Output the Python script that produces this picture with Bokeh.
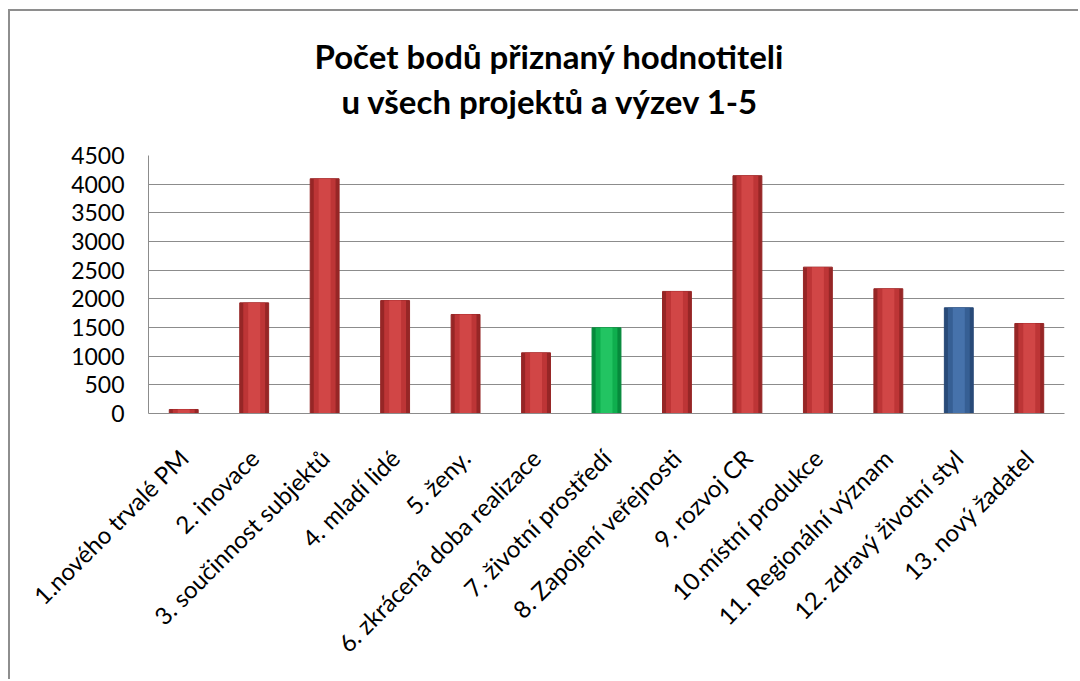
import math
from bokeh.plotting import figure
from bokeh.models import Range1d, FixedTicker, Title, FactorRange
from bokeh.embed import file_html
from bokeh.resources import INLINE

# ---- data ----
categories = [
    "1.nového trvalé PM",
    "2. inovace",
    "3. součinnost subjektů",
    "4. mladí lidé",
    "5. ženy.",
    "6. zkrácená doba realizace",
    "7. životní prostředí",
    "8. Zapojení veřejnosti",
    "9. rozvoj CR",
    "10.místní produkce",
    "11. Regionální význam",
    "12. zdravý životní styl",
    "13. nový žadatel",
]
values = [70, 1930, 4095, 1970, 1727, 1059, 1495, 2129, 4148, 2553, 2176, 1844, 1570]
y_ticks = [0, 500, 1000, 1500, 2000, 2500, 3000, 3500, 4000, 4500]
title_lines = ["Počet bodů přiznaný hodnotiteli", "u všech projektů a výzev 1-5"]

# ---- style ----
bar_kind = ["red"] * 13
bar_kind[6] = "green"
bar_kind[11] = "blue"
palette = {
    "red": ("#962626", "#bd3536", "#d14646"),
    "green": ("#068a3c", "#0fae4e", "#22c462"),
    "blue": ("#284a78", "#365f94", "#4672ab"),
}
dark = [palette[k][0] for k in bar_kind]
mid = [palette[k][1] for k in bar_kind]
light = [palette[k][2] for k in bar_kind]

p = figure(
    x_range=FactorRange(factors=categories, range_padding=0),
    y_range=Range1d(0, 4500),
    width=1070, height=670,
    output_backend="svg", toolbar_location=None,
    min_border_left=138, min_border_right=16,
    min_border_top=144, min_border_bottom=268,
)
p.styles = {
    "margin-left": "8px", "margin-top": "9px",
    "border-left": "2px solid #8e8e8e", "border-top": "2px solid #8e8e8e",
}
p.outline_line_color = None
p.background_fill_color = "white"
p.border_fill_color = "white"

p.vbar(x=categories, top=values, width=0.41, fill_color=dark, line_color=dark, line_width=1)
p.vbar(x=categories, top=values, width=0.31, fill_color=mid, line_color=None)
p.vbar(x=categories, top=values, width=0.17, fill_color=light, line_color=None)

p.ygrid.grid_line_color = "#8c8c8c"
p.ygrid.grid_line_width = 1
p.xgrid.grid_line_color = None

p.yaxis.ticker = FixedTicker(ticks=y_ticks)
p.yaxis.axis_line_color = "#8c8c8c"
p.yaxis.major_tick_out = 0
p.yaxis.major_tick_in = 0
p.yaxis.minor_tick_out = 0
p.yaxis.minor_tick_in = 0
p.yaxis.major_label_standoff = 24
p.yaxis.major_label_text_font = "Lato"
p.yaxis.major_label_text_font_size = "23px"
p.yaxis.major_label_text_color = "#000000"

p.xaxis.axis_line_color = "#8c8c8c"
p.xaxis.major_tick_out = 0
p.xaxis.major_tick_in = 0
p.xaxis.major_label_orientation = math.pi / 4
p.xaxis.major_label_standoff = 40
p.xaxis.major_label_text_font = "Lato"
p.xaxis.major_label_text_font_size = "24px"
p.xaxis.major_label_text_color = "#000000"

# spacer between plot area and the title block
p.add_layout(Title(text=" ", text_font_size="10px", standoff=22), "above")

# title: second line is added first (closest to the plot area)
offsets = [166, 193]
standoffs = [5, 0]
for i in (1, 0):
    p.add_layout(Title(
        text=title_lines[i], align="left", offset=offsets[i], standoff=standoffs[i],
        text_font="Lato", text_font_style="bold", text_font_size="33px",
        text_color="#000000",
    ), "above")

open("out.html", "w").write(file_html(p, INLINE))
